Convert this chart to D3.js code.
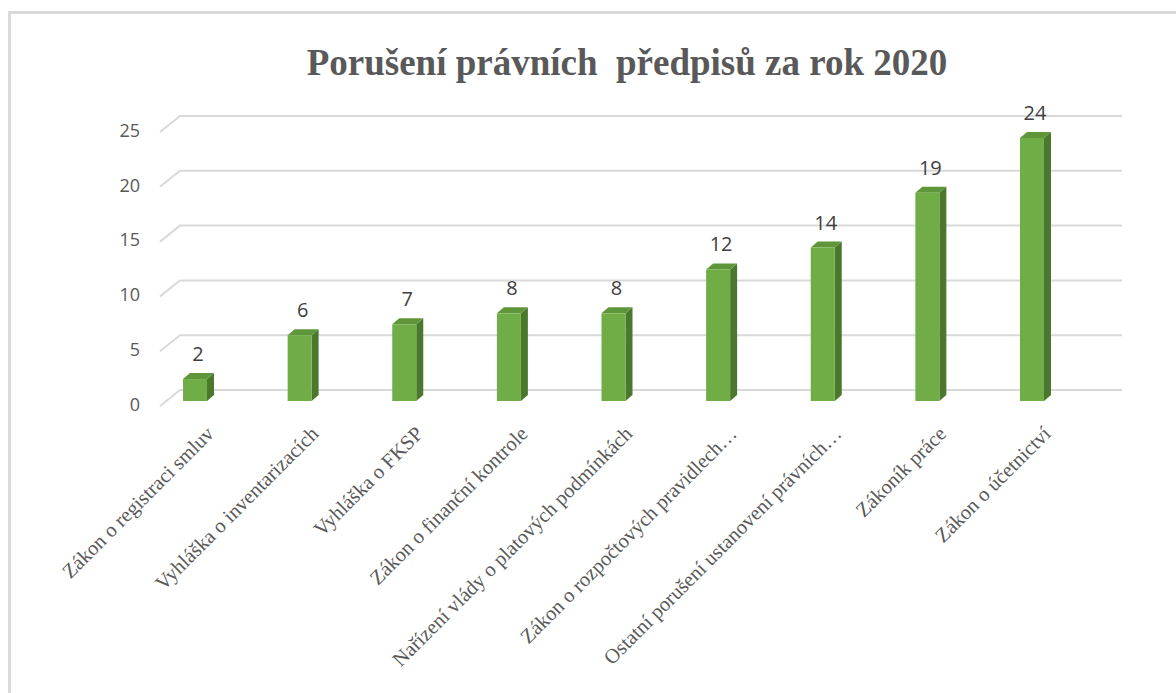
<!DOCTYPE html>
<html>
<head>
<meta charset="utf-8">
<script src="https://cdn.jsdelivr.net/npm/d3@7"></script>
<style>
  body { margin: 0; background: #fff; }
</style>
</head>
<body>
<div class="chart"></div>
<script>
var w = 1176;
var h = 693;

// data
var categories = [
  "Zákon o registraci smluv",
  "Vyhláška o inventarizacích",
  "Vyhláška o FKSP",
  "Zákon o finanční kontrole",
  "Nařízení vlády o platových podmínkách",
  "Zákon o rozpočtových pravidlech…",
  "Ostatní porušení ustanovení právních…",
  "Zákoník práce",
  "Zákon o účetnictví"
];
var values = [2, 6, 7, 8, 8, 12, 14, 19, 24];
var tickValues = [0, 5, 10, 15, 20, 25];
var chartTitle = "Porušení právních  předpisů za rok 2020";

var depthX = 7, depthY = -6;   // bar depth
var wallY = -11;               // back wall offset vs front
var barW = 24;

var svg = d3.select(".chart").append("svg")
  .attr("width", w)
  .attr("height", h);

// outer frame (only left/top visible)
svg.append("rect")
  .attr("x", 9.5).attr("y", 12.5)
  .attr("width", w + 20).attr("height", h + 20)
  .attr("fill", "none")
  .attr("stroke", "#d9d9d9")
  .attr("stroke-width", 3);

svg.append("text")
  .attr("x", 627)
  .attr("y", 75)
  .attr("text-anchor", "middle")
  .attr("font-family", "'Liberation Serif', 'Times New Roman', serif")
  .attr("font-weight", "bold")
  .attr("font-size", 37)
  .attr("fill", "#595959")
  .style("white-space", "pre")
  .text(chartTitle);

var x = d3.scalePoint()
  .domain(categories)
  .range([142.7, 1084.3])
  .padding(0.5);

var y = d3.scaleLinear()
  .domain([0, 25])
  .range([401, 127]);

// gridlines: diagonal on side wall + horizontal on back wall
var grid = svg.append("g");
grid.selectAll("path")
  .data(tickValues)
  .enter()
  .append("path")
  .attr("d", function (d) {
    var yb = y(d) + wallY;
    return "M160," + (yb + 16) + "L180," + yb + "L1122," + yb;
  })
  .attr("fill", "none")
  .attr("stroke", "#d9d9d9")
  .attr("stroke-width", 2);

grid.selectAll("text")
  .data(tickValues)
  .enter()
  .append("text")
  .attr("x", 140)
  .attr("y", function (d) { return y(d) + 5; })
  .attr("text-anchor", "end")
  .attr("dominant-baseline", "middle")
  .attr("font-family", "'Open Sans', 'Liberation Sans', sans-serif")
  .attr("font-size", 18)
  .attr("fill", "#595959")
  .text(function (d) { return d; });

// bars
var bars = svg.append("g")
  .selectAll("g")
  .data(values)
  .enter()
  .append("g");

bars.append("path") // side
  .attr("d", function (d, i) {
    var x1 = x(categories[i]) + barW / 2, yt = y(d), yb = y(0);
    return "M" + x1 + "," + yb + "L" + x1 + "," + yt +
      "L" + (x1 + depthX) + "," + (yt + depthY) +
      "L" + (x1 + depthX) + "," + (yb + depthY) + "Z";
  })
  .attr("fill", "#4a782d");

bars.append("path") // top
  .attr("d", function (d, i) {
    var x0 = x(categories[i]) - barW / 2, yt = y(d);
    return "M" + x0 + "," + yt + "L" + (x0 + depthX) + "," + (yt + depthY) +
      "L" + (x0 + barW + depthX) + "," + (yt + depthY) +
      "L" + (x0 + barW) + "," + yt + "Z";
  })
  .attr("fill", "#5e9639");

bars.append("rect") // front
  .attr("x", function (d, i) { return x(categories[i]) - barW / 2; })
  .attr("y", function (d) { return y(d); })
  .attr("width", barW)
  .attr("height", function (d) { return y(0) - y(d); })
  .attr("fill", "#70ad47");

bars.append("text")
  .attr("x", function (d, i) { return x(categories[i]) + 3; })
  .attr("y", function (d) { return y(d) - 18; })
  .attr("text-anchor", "middle")
  .attr("font-family", "'Open Sans', 'Liberation Sans', sans-serif")
  .attr("font-size", 20)
  .attr("fill", "#404040")
  .text(function (d) { return d; });

// category labels, rotated
svg.append("g")
  .selectAll("text")
  .data(categories)
  .enter()
  .append("text")
  .attr("transform", function (d) {
    return "translate(" + (x(d) + 20) + ",435) rotate(-45)";
  })
  .attr("text-anchor", "end")
  .attr("font-family", "'Liberation Serif', 'Times New Roman', serif")
  .attr("font-size", 20.5)
  .attr("fill", "#595959")
  .text(function (d) { return d; });
</script>
</body>
</html>
